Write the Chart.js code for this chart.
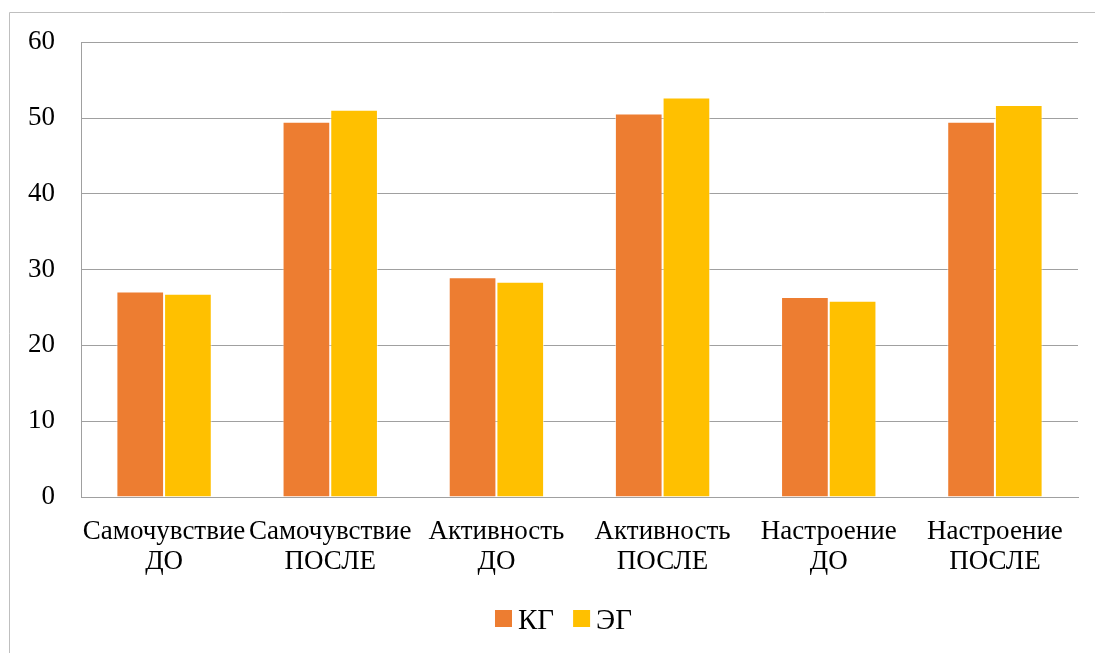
<!DOCTYPE html>
<html>
<head>
<meta charset="utf-8">
<script src="https://cdn.jsdelivr.net/npm/chart.js@4/dist/chart.umd.min.js"></script>
<style>
  html, body { margin: 0; padding: 0; background: #ffffff; }
  canvas { display: block; }
</style>
</head>
<body>
<canvas id="chart" width="1095" height="653"></canvas>
<script>
// Categories (two-line labels) and group values
const categories = [
  ["Самочувствие", "ДО"],
  ["Самочувствие", "ПОСЛЕ"],
  ["Активность", "ДО"],
  ["Активность", "ПОСЛЕ"],
  ["Настроение", "ДО"],
  ["Настроение", "ПОСЛЕ"]
];
const seriesNames = ["КГ", "ЭГ"];
const kgValues = [27.1, 49.5, 29.0, 50.6, 26.4, 49.5];
const egValues = [26.8, 51.1, 28.4, 52.7, 25.9, 51.7];
const yTicks = [0, 10, 20, 30, 40, 50, 60];

const SERIF = "'Liberation Serif', 'Times New Roman', serif";
Chart.defaults.font.family = SERIF;
Chart.defaults.color = '#000000';

// Thin frame around the whole chart object, running off the right and bottom edges
const framePlugin = {
  id: 'frame',
  beforeDraw(chart) {
    const ctx = chart.ctx;
    ctx.save();
    ctx.strokeStyle = '#bfbfbf';
    ctx.lineWidth = 1;
    ctx.beginPath();
    ctx.moveTo(9.5, chart.height + 2);
    ctx.lineTo(9.5, 12.5);
    ctx.lineTo(chart.width + 2, 12.5);
    ctx.stroke();
    ctx.restore();
  }
};

// Compact legend under the axis: square swatch, small gap, label
const legendPlugin = {
  id: 'compactLegend',
  afterDraw(chart) {
    const ctx = chart.ctx;
    const box = 17, gap = 6, itemGap = 19;
    ctx.save();
    ctx.font = '29px ' + SERIF;
    ctx.textBaseline = 'alphabetic';
    const items = chart.data.datasets.map(ds => ({
      text: ds.label, color: ds.backgroundColor, w: ctx.measureText(ds.label).width
    }));
    const total = items.reduce((s, it) => s + box + gap + it.w, 0) + itemGap * (items.length - 1);
    let x = 563.5 - total / 2;
    const boxTop = 610, baseline = 629;
    items.forEach(it => {
      ctx.fillStyle = it.color;
      ctx.fillRect(x, boxTop, box, box);
      x += box + gap;
      ctx.fillStyle = '#000000';
      ctx.fillText(it.text, x, baseline);
      x += it.w + itemGap;
    });
    ctx.restore();
  }
};

new Chart(document.getElementById('chart'), {
  type: 'bar',
  data: {
    labels: categories,
    datasets: [
      { label: seriesNames[0], data: kgValues, backgroundColor: '#ED7D31',
        borderColor: 'rgba(255,255,255,0.55)', borderWidth: 1 },
      { label: seriesNames[1], data: egValues, backgroundColor: '#FFC000',
        borderColor: 'rgba(255,255,255,0.55)', borderWidth: 1 }
    ]
  },
  options: {
    responsive: false,
    animation: false,
    layout: { padding: { left: 2, right: 17, top: 28, bottom: 56 } },
    datasets: { bar: { categoryPercentage: 0.574, barPercentage: 1.0 } },
    scales: {
      x: {
        grid: { display: false, drawTicks: false },
        border: { display: true, color: '#a0a0a0', width: 1 },
        ticks: {
          font: { size: 27, lineHeight: 1.111 },
          maxRotation: 0, minRotation: 0, autoSkip: false, padding: 20
        }
      },
      y: {
        min: 0, max: 60,
        afterBuildTicks(axis) { axis.ticks = yTicks.map(v => ({ value: v })); },
        grid: { color: '#a0a0a0', lineWidth: 1, drawTicks: false },
        border: { display: true, color: '#a0a0a0', width: 1 },
        ticks: { font: { size: 27 }, padding: 26 }
      }
    },
    plugins: {
      legend: { display: false },
      tooltip: { enabled: false }
    }
  },
  plugins: [framePlugin, legendPlugin]
});
</script>
</body>
</html>
